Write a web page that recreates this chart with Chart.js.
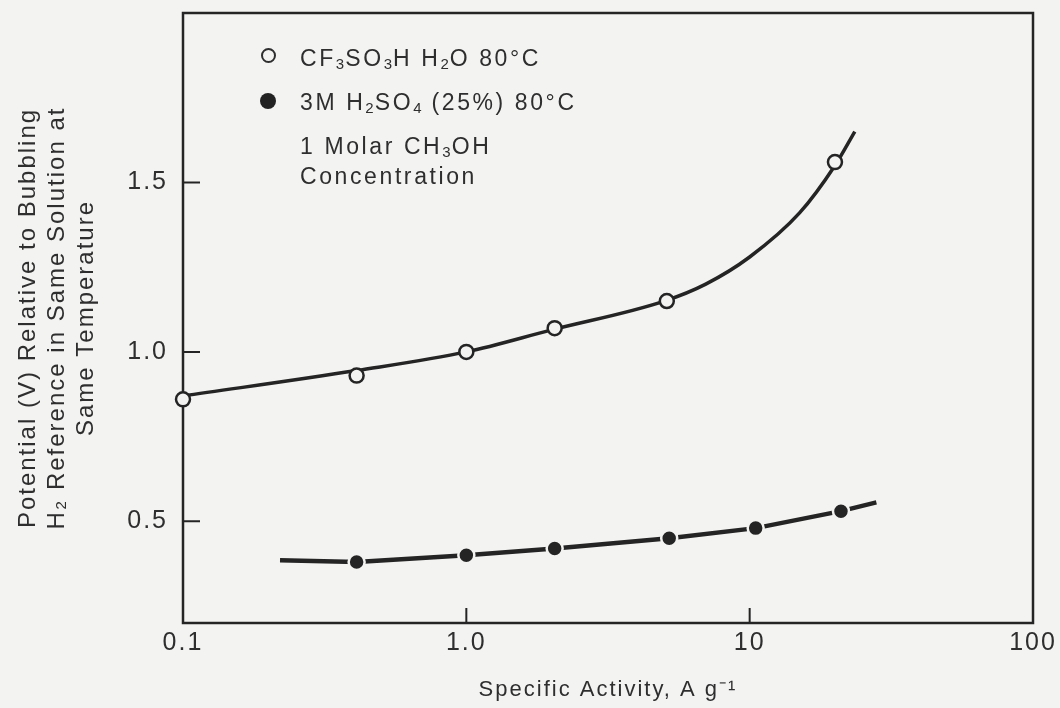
<!DOCTYPE html>
<html>
<head>
<meta charset="utf-8">
<script src="https://cdn.jsdelivr.net/npm/chart.js@4.4.0/dist/chart.umd.min.js"></script>
<style>
html, body { margin: 0; padding: 0; background: #f3f4f2; }
#wrap { position: relative; width: 1060px; height: 708px; }
#c { position: absolute; left: 0; top: 0; }
.leg { position: absolute; font-family: "Liberation Sans", Arial, sans-serif; font-size: 23px; line-height: 26px; color: #2e2e2e; letter-spacing: 2.6px; white-space: nowrap; }
.leg sub { font-size: 15px; vertical-align: -3px; line-height: 0; letter-spacing: 1px; }
.mk { position: absolute; box-sizing: border-box; border-radius: 50%; }
</style>
</head>
<body>
<div id="wrap">
<canvas id="c" width="1060" height="708"></canvas>
<span class="mk" style="left:261px;top:48px;width:15px;height:15px;border:2.5px solid #2e2e2e;background:#f3f4f2;"></span>
<div class="leg" style="left:300px;top:45px;">CF<sub>3</sub>SO<sub>3</sub>H H<sub>2</sub>O 80°C</div>
<span class="mk" style="left:260px;top:93px;width:16px;height:16px;background:#222;"></span>
<div class="leg" style="left:300px;top:89px;">3M H<sub>2</sub>SO<sub>4</sub> (25%) 80°C</div>
<div class="leg" style="left:300px;top:133px;">1 Molar CH<sub>3</sub>OH</div>
<div class="leg" style="left:300px;top:163px;">Concentration</div>
</div>
<script>
// axis ticks
const tickX = [0.1, 1, 10, 100];
const tickXLabels = ['0.1', '1.0', '10', '100'];
const tickY = [0.5, 1.0, 1.5];
const tickYLabels = ['0.5', '1.0', '1.5'];

// CF3SO3H H2O 80C (open circles) + fitted curve
const cfX = [0.1, 0.41, 1.0, 2.05, 5.1, 20];
const cfY = [0.86, 0.93, 1.0, 1.07, 1.15, 1.56];
const cfCurveX = [0.1, 0.41, 1, 2, 5, 7, 10, 15, 20, 23.5];
const cfCurveY = [0.87, 0.945, 1.0, 1.065, 1.15, 1.2, 1.28, 1.41, 1.55, 1.65];

// 3M H2SO4 (25%) 80C (filled circles) + line
const hsX = [0.41, 1.0, 2.05, 5.2, 10.5, 21];
const hsY = [0.38, 0.40, 0.42, 0.45, 0.48, 0.53];
const hsLineX = [0.22, 0.41, 1.0, 2.05, 5.2, 10.5, 21, 28];
const hsLineY = [0.385, 0.38, 0.40, 0.42, 0.45, 0.48, 0.53, 0.556];

const ink = '#242424';
const paper = '#f3f4f2';
const font = '"Liberation Sans", Arial, sans-serif';
const zip = (xs, ys) => xs.map((x, i) => ({x: x, y: ys[i]}));

// wide type like the scan
const spacing = {
  id: 'spacing',
  beforeUpdate(chart) { chart.ctx.letterSpacing = '2px'; },
  beforeDraw(chart) { chart.ctx.letterSpacing = '2px'; }
};

const frame = {
  id: 'frame',
  beforeDatasetsDraw(chart) {
    const ctx = chart.ctx, a = chart.chartArea;
    const sx = chart.scales.x, sy = chart.scales.y;
    ctx.save();
    ctx.strokeStyle = ink;
    ctx.lineWidth = 2.5;
    ctx.strokeRect(a.left, a.top, a.right - a.left, a.bottom - a.top);
    ctx.lineWidth = 2;
    ctx.beginPath();
    [1, 10].forEach(v => {
      const px = sx.getPixelForValue(v);
      ctx.moveTo(px, a.bottom);
      ctx.lineTo(px, a.bottom - 15);
    });
    tickY.forEach(v => {
      const py = sy.getPixelForValue(v);
      ctx.moveTo(a.left, py);
      ctx.lineTo(a.left + 17, py);
    });
    ctx.stroke();
    ctx.restore();
  }
};

new Chart(document.getElementById('c'), {
  type: 'scatter',
  data: {
    datasets: [
      {
        data: zip(cfCurveX, cfCurveY),
        showLine: true,
        borderColor: ink,
        borderWidth: 3.5,
        pointRadius: 0,
        cubicInterpolationMode: 'monotone',
        clip: false,
        order: 2
      },
      {
        data: zip(hsLineX, hsLineY),
        showLine: true,
        borderColor: ink,
        borderWidth: 4.5,
        pointRadius: 0,
        tension: 0,
        clip: false,
        order: 2
      },
      {
        data: zip(cfX, cfY),
        pointRadius: 7,
        pointBackgroundColor: paper,
        pointBorderColor: ink,
        pointBorderWidth: 2.5,
        clip: false,
        order: 1
      },
      {
        data: zip(hsX, hsY),
        pointRadius: 8,
        pointBackgroundColor: ink,
        pointBorderColor: paper,
        pointBorderWidth: 2.5,
        clip: false,
        order: 1
      }
    ]
  },
  options: {
    responsive: false,
    animation: false,
    devicePixelRatio: 1,
    layout: { padding: { left: 0, right: 27, top: 13, bottom: 0 } },
    plugins: { legend: { display: false }, tooltip: { enabled: false } },
    scales: {
      x: {
        type: 'logarithmic',
        min: 0.1,
        max: 100,
        grid: { display: false },
        border: { display: false },
        afterBuildTicks: s => { s.ticks = tickX.map(v => ({value: v})); },
        afterFit: s => { s.height = 85; },
        ticks: {
          autoSkip: false,
          maxRotation: 0,
          padding: 0,
          color: '#2e2e2e',
          font: { family: font, size: 25, lineHeight: 1 },
          callback: (v, i) => tickXLabels[i]
        },
        title: {
          display: true,
          text: 'Specific Activity, A g\u207B\u00B9',
          color: '#2e2e2e',
          font: { family: font, size: 22, lineHeight: 1.2 },
          padding: { top: 0, bottom: 5 }
        }
      },
      y: {
        min: 0.2,
        max: 2.0,
        grid: { display: false },
        border: { display: false },
        afterBuildTicks: s => { s.ticks = tickY.map(v => ({value: v})); },
        afterFit: s => { s.width = 183; s.paddingTop = 0; s.paddingBottom = 0; },
        ticks: {
          padding: 7,
          color: '#2e2e2e',
          font: { family: font, size: 25, lineHeight: 1 },
          callback: (v, i) => tickYLabels[i]
        },
        title: {
          display: true,
          text: ['Potential (V) Relative to Bubbling', 'H\u2082 Reference in Same Solution at', 'Same Temperature'],
          color: '#2e2e2e',
          font: { family: font, size: 24, lineHeight: 1.2 },
          padding: { top: 14, bottom: 0 }
        }
      }
    }
  },
  plugins: [spacing, frame]
});
</script>
</body>
</html>
